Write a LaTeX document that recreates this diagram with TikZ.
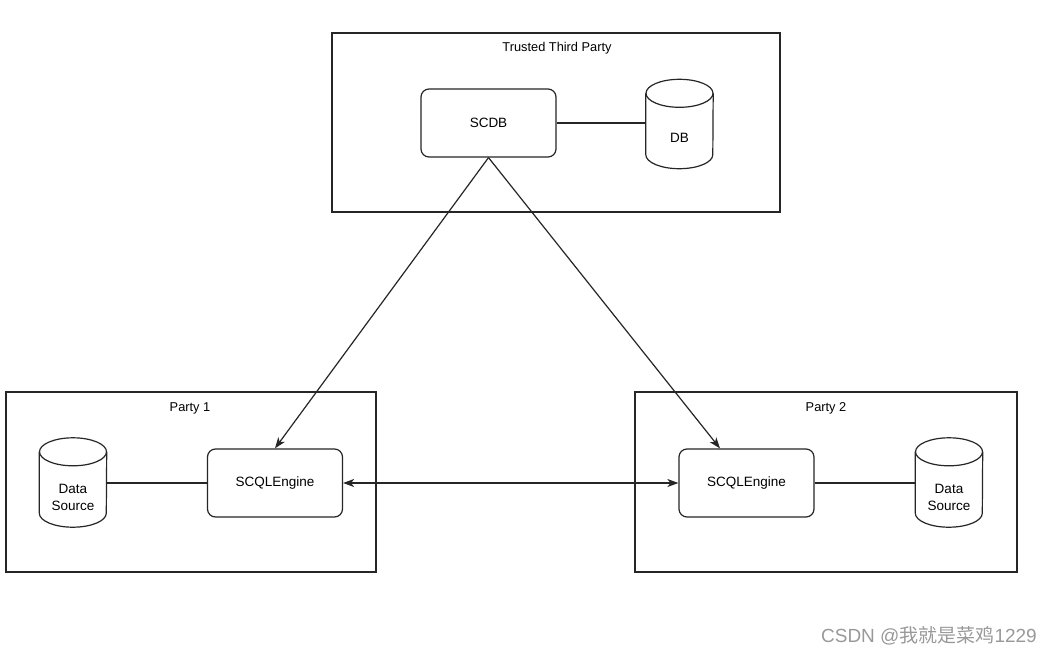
\documentclass[tikz,border=0pt]{standalone}
\usepackage{fontspec}
\setmainfont{Liberation Sans}
\newfontfamily\cjk{Noto Sans CJK SC}
\usetikzlibrary{arrows.meta,calc}
\tikzset{
  frame/.style={draw=black!85, line width=1.2pt, inner sep=0pt},
  comp/.style={draw=black!85, line width=1.2pt, rounded corners=8pt, inner sep=0pt,
    minimum width=135pt, minimum height=68pt, font=\fontsize{13.5}{15}\selectfont},
  store/.style={inner sep=0pt, minimum width=67pt, minimum height=89pt},
  storeline/.style={draw=black!85, line width=1.2pt},
  lbl/.style={font=\fontsize{12.8}{15}\selectfont, inner sep=0pt},
  txt/.style={font=\fontsize{13.5}{17}\selectfont, align=center, inner sep=0pt},
  link/.style={draw=black!85, line width=1.2pt},
  arr/.style={link, -{Stealth[length=11pt,width=8pt,inset=3pt]}},
  darr/.style={link, {Stealth[length=11pt,width=8pt,inset=3pt]}-{Stealth[length=11pt,width=8pt,inset=3pt]}}
}
\newcommand\drawcyl[1]{%
  \draw[storeline] ([yshift=-14pt]#1.north west) -- ([yshift=14pt]#1.south west)
    arc[start angle=180, end angle=360, x radius=33.5pt, y radius=14pt]
    -- ([yshift=-14pt]#1.north east);
  \draw[storeline] ([yshift=-14pt]#1.north) ellipse [x radius=33.5pt, y radius=14pt];
}
\begin{document}
\begin{tikzpicture}[x=1pt,y=-1pt]
\useasboundingbox[fill=white] (0,0) rectangle (1053,656);
% frames
\node[frame, minimum width=448pt, minimum height=179pt] (ttp) at (556,122.5) {};
\node[lbl] (ttpl) at (557,48) {Trusted Third Party};
\node[frame, minimum width=370pt, minimum height=180pt] (p1) at (191,482) {};
\node[lbl] (p1l) at (190,408) {Party 1};
\node[frame, minimum width=382pt, minimum height=180pt] (p2) at (826,482) {};
\node[lbl] (p2l) at (826,408) {Party 2};
% components
\node[comp] (scdb) at (488.5,123) {SCDB};
\node[store] (db) at (679.5,124) {};
\drawcyl{db}
\node[txt] (dbt) at (679.5,138) {DB};
\node[comp] (e1) at (275,483) {SCQLEngine};
\node[store] (ds1) at (73,482.5) {};
\drawcyl{ds1}
\node[txt] (ds1t) at (73,497) {Data\\Source};
\node[comp] (e2) at (746.5,483) {SCQLEngine};
\node[store] (ds2) at (949,482.5) {};
\drawcyl{ds2}
\node[txt] (ds2t) at (949,497) {Data\\Source};
% links
\draw[link] (scdb.east) -- (scdb.east -| db.west);
\draw[link] (ds1.east |- e1.west) -- (e1.west);
\draw[link] (e2.east) -- (e2.east -| ds2.west);
\draw[arr] (scdb.south) -- (e1.north);
\draw[arr] (scdb.south) -- ($(e2.north)+(-26.5,0)$);
\draw[darr] (e1.east) -- (e2.west);
% watermark
\node[font=\fontsize{19}{22}\selectfont, text=black!40, inner sep=0pt, anchor=east] (wm) at (1037,636) {CSDN @{\cjk 我就是菜鸡}1229};
\end{tikzpicture}
\end{document}
